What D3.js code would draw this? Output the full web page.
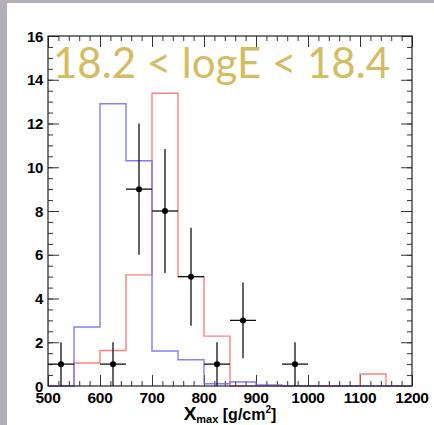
<!DOCTYPE html>
<html>
<head>
<meta charset="utf-8">
<script src="https://cdn.jsdelivr.net/npm/d3@7"></script>
<style>
  html, body { margin: 0; padding: 0; background: #fff; }
  svg { display: block; }
</style>
</head>
<body>
<svg id="chart" width="434" height="425"></svg>
<script>
// Bin edges of the Xmax histograms [g/cm^2]
const binEdges = [500, 550, 600, 650, 700, 750, 800, 850, 900, 950, 1000, 1050, 1100, 1150, 1200];
// Expected counts per bin, two simulated primaries
const blueCounts = [0, 2.7, 12.9, 10.3, 1.6, 1.2, 0.1, 0.18, 0.05, 0, 0, 0, 0, 0];
const redCounts  = [0, 1.05, 1.62, 5.08, 13.38, 5.0, 2.28, 0, 0, 0, 0, 0, 0.55, 0];
// Measured events (bin centre, count, Poisson error)
const dataX   = [525, 625, 675, 725, 775, 825, 875, 975];
const dataY   = [1, 1, 9, 8, 5, 1, 3, 1];
const dataErr = [1, 1, 3, 2.83, 2.24, 1, 1.73, 1];
const halfBin = 25;
// Axis ticks
const xTicks = [500, 600, 700, 800, 900, 1000, 1100, 1200];
const yTicks = [0, 2, 4, 6, 8, 10, 12, 14, 16];
const titleText = "18.2 < logE < 18.4";

const svg = d3.select("#chart");
const W = 434, H = 425;
const frame = { left: 48, right: 412, top: 36, bottom: 386 };

// Grey slide border
svg.append("rect").attr("x", 0).attr("y", 0).attr("width", W).attr("height", H).attr("fill", "#fff");
svg.append("rect").attr("x", 0).attr("y", 0).attr("width", 7).attr("height", H).attr("fill", "#b2b0b6");
svg.append("rect").attr("x", 0).attr("y", 0).attr("width", W).attr("height", 3).attr("fill", "#b2b0b6");

const x = d3.scaleLinear().domain([500, 1200]).range([frame.left, frame.right]);
const y = d3.scaleLinear().domain([0, 16]).range([frame.bottom, frame.top]);

const minorX = d3.range(500, 1200.1, 20);
const minorY = d3.range(0, 16.01, 0.5);

// Axes with inward ticks
const tickColor = "#333";
function drawTicks(g) {
  g.selectAll("path.domain").remove();
  g.selectAll("line").attr("stroke", tickColor).attr("stroke-width", 1);
}
// bottom
svg.append("g").attr("transform", `translate(0,${frame.bottom})`)
  .call(d3.axisTop(x).tickValues(minorX).tickSize(5).tickFormat(""))
  .call(drawTicks);
svg.append("g").attr("transform", `translate(0,${frame.bottom})`)
  .call(d3.axisTop(x).tickValues(xTicks).tickSize(11).tickFormat(""))
  .call(drawTicks);
// top
svg.append("g").attr("transform", `translate(0,${frame.top})`)
  .call(d3.axisBottom(x).tickValues(minorX).tickSize(5).tickFormat(""))
  .call(drawTicks);
svg.append("g").attr("transform", `translate(0,${frame.top})`)
  .call(d3.axisBottom(x).tickValues(xTicks).tickSize(11).tickFormat(""))
  .call(drawTicks);
// left
svg.append("g").attr("transform", `translate(${frame.left},0)`)
  .call(d3.axisRight(y).tickValues(minorY).tickSize(5).tickFormat(""))
  .call(drawTicks);
svg.append("g").attr("transform", `translate(${frame.left},0)`)
  .call(d3.axisRight(y).tickValues(yTicks).tickSize(11).tickFormat(""))
  .call(drawTicks);
// right
svg.append("g").attr("transform", `translate(${frame.right},0)`)
  .call(d3.axisLeft(y).tickValues(minorY).tickSize(5).tickFormat(""))
  .call(drawTicks);
svg.append("g").attr("transform", `translate(${frame.right},0)`)
  .call(d3.axisLeft(y).tickValues(yTicks).tickSize(11).tickFormat(""))
  .call(drawTicks);

// Tick labels
const labelFont = "'Liberation Sans', Arial, sans-serif";
svg.append("g").selectAll("text").data(xTicks).join("text")
  .attr("x", d => x(d)).attr("y", 403)
  .attr("text-anchor", "middle")
  .attr("font-family", labelFont).attr("font-weight", "bold").attr("font-size", 15.5)
  .attr("letter-spacing", -0.3)
  .attr("fill", "#000")
  .text(d => d);
svg.append("g").selectAll("text").data(yTicks).join("text")
  .attr("x", 43).attr("y", d => y(d) + 5.5)
  .attr("text-anchor", "end")
  .attr("font-family", labelFont).attr("font-weight", "bold").attr("font-size", 15)
  .attr("letter-spacing", -0.4)
  .attr("fill", "#000")
  .text(d => d);

// Histograms as step lines
function stepPoints(counts) {
  const pts = counts.map((c, i) => [binEdges[i], c]);
  pts.push([binEdges[binEdges.length - 1], counts[counts.length - 1]]);
  return pts;
}
const step = d3.line().x(d => x(d[0])).y(d => y(d[1])).curve(d3.curveStepAfter);

svg.append("path").attr("d", step(stepPoints(redCounts)))
  .attr("fill", "none").attr("stroke", "#ff7070").attr("stroke-width", 1.4).attr("stroke-opacity", 0.9);
svg.append("path").attr("d", step(stepPoints(blueCounts)))
  .attr("fill", "none").attr("stroke", "#7070ff").attr("stroke-width", 1.4).attr("stroke-opacity", 0.9);

// Frame
svg.append("rect")
  .attr("x", frame.left).attr("y", frame.top)
  .attr("width", frame.right - frame.left).attr("height", frame.bottom - frame.top)
  .attr("fill", "none").attr("stroke", "#222").attr("stroke-width", 1.2);

// Data points with error bars
const pts = dataX.map((d, i) => ({ x: d, y: dataY[i], e: dataErr[i] }));
const gData = svg.append("g").attr("stroke", "#111").attr("stroke-width", 1.3);
gData.selectAll("line.h").data(pts).join("line").attr("class", "h")
  .attr("x1", d => x(d.x - halfBin)).attr("x2", d => x(d.x + halfBin))
  .attr("y1", d => y(d.y)).attr("y2", d => y(d.y));
gData.selectAll("line.v").data(pts).join("line").attr("class", "v")
  .attr("x1", d => x(d.x)).attr("x2", d => x(d.x))
  .attr("y1", d => y(d.y - d.e)).attr("y2", d => y(d.y + d.e));
svg.append("g").selectAll("circle").data(pts).join("circle")
  .attr("cx", d => x(d.x)).attr("cy", d => y(d.y)).attr("r", 3)
  .attr("fill", "#000");

// Axis title
const xt = svg.append("text").attr("x", 230).attr("y", 420)
  .attr("text-anchor", "middle")
  .attr("font-family", labelFont).attr("font-weight", "bold").attr("font-size", 16)
  .attr("fill", "#000");
xt.append("tspan").attr("font-size", 19).text("X");
xt.append("tspan").attr("font-size", 11).attr("dy", 3).text("max");
xt.append("tspan").attr("dy", -3).text(" [g/cm");
xt.append("tspan").attr("font-size", 10).attr("dy", -7).text("2");
xt.append("tspan").attr("dy", 7).text("]");

// Energy bin label
svg.append("text").attr("x", 53).attr("y", 78)
  .attr("font-family", "Lato, 'Open Sans', sans-serif").attr("font-size", 42)
  .attr("fill", "#d4bc62")
  .text(titleText);
</script>
</body>
</html>
